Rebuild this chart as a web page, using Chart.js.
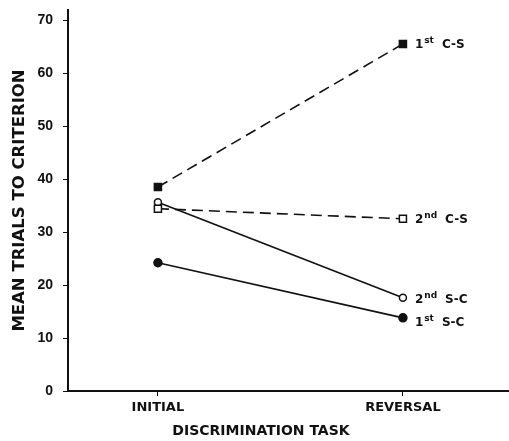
<!DOCTYPE html>
<html>
<head>
<meta charset="utf-8">
<script src="https://cdn.jsdelivr.net/npm/chart.js@4"></script>
<style>
  html, body { margin: 0; padding: 0; background: #fff; overflow: hidden; }
  #wrap { width: 509px; height: 441px; }
</style>
</head>
<body>
<div id="wrap"><canvas id="chart" width="509" height="441"></canvas></div>
<script>
// categories / tick labels
const tasks = ['INITIAL', 'REVERSAL'];
const yTicks = [0, 10, 20, 30, 40, 50, 60, 70];
const xTitle = 'DISCRIMINATION TASK';
const yTitle = 'MEAN TRIALS TO CRITERION';

// series values (mean trials to criterion)
const firstCS  = [38.5, 65.5];
const secondCS = [34.4, 32.5];
const secondSC = [35.6, 17.6];
const firstSC  = [24.2, 13.8];

// label parts: ordinal, superscript, condition
const seriesNames = [
  ['1', 'st', 'C-S'],
  ['2', 'nd', 'C-S'],
  ['2', 'nd', 'S-C'],
  ['1', 'st', 'S-C'],
];

const FONT = "'DejaVu Sans', sans-serif";
const NUMFONT = "'Liberation Sans', Arial, sans-serif";
const INK = '#111';

const toPts = arr => arr.map((v, i) => ({ x: i, y: v }));

// series labels at the right + x axis title (sits left of centre in the original)
const extraText = {
  id: 'extraText',
  afterDatasetsDraw(chart) {
    const ctx = chart.ctx;
    const nudge = [0, 0, 1, 4];
    ctx.save();
    ctx.fillStyle = INK;
    ctx.textBaseline = 'middle';
    chart.data.datasets.forEach((ds, i) => {
      const pt = chart.getDatasetMeta(i).data[1];
      const [n, sup, cond] = seriesNames[i];
      let x = pt.x + 12;
      const y = pt.y + nudge[i];
      ctx.font = 'bold 12px ' + FONT;
      ctx.fillText(n, x, y + 1);
      x += ctx.measureText(n).width + 1;
      ctx.font = 'bold 9px ' + FONT;
      ctx.fillText(sup, x, y - 3);
      x += ctx.measureText(sup).width + 8;
      ctx.font = 'bold 12px ' + FONT;
      ctx.fillText(cond, x, y + 1);
    });
    ctx.font = 'bold 14px ' + FONT;
    ctx.textAlign = 'center';
    ctx.fillText(xTitle, 261, 431);
    ctx.restore();
  }
};

function lineSet(data, dashed, style, filled, radius) {
  return {
    data: toPts(data),
    borderColor: INK,
    borderWidth: 1.6,
    borderDash: dashed ? [11, 6] : [],
    pointStyle: style,
    pointRadius: radius,
    pointBorderWidth: 1.5,
    pointBorderColor: INK,
    pointBackgroundColor: filled ? INK : '#fff',
    tension: 0,
  };
}

new Chart(document.getElementById('chart'), {
  type: 'line',
  data: {
    datasets: [
      lineSet(firstCS, true, 'rect', true, 5),
      lineSet(secondCS, true, 'rect', false, 5),
      lineSet(secondSC, false, 'circle', false, 3.5),
      lineSet(firstSC, false, 'circle', true, 4),
    ],
  },
  options: {
    responsive: false,
    animation: false,
    layout: { autoPadding: false, padding: { top: 10, right: 0, left: 0, bottom: 0 } },
    plugins: { legend: { display: false }, tooltip: { enabled: false } },
    scales: {
      x: {
        type: 'linear',
        min: -0.367,
        max: 1.433,
        afterBuildTicks: s => { s.ticks = tasks.map((_, i) => ({ value: i })); },
        afterFit: s => { s.height = 50; s.paddingLeft = 0; s.paddingRight = 0; },
        border: { display: true, color: INK, width: 2 },
        grid: { drawOnChartArea: false, color: INK, tickLength: 5, lineWidth: 1 },
        ticks: {
          callback: v => tasks[v],
          color: INK, padding: 4,
          font: { family: FONT, size: 13, weight: 'bold' },
          maxRotation: 0,
        },
      },
      y: {
        min: 0,
        max: 71.9,
        afterBuildTicks: s => { s.ticks = yTicks.map(v => ({ value: v })); },
        afterFit: s => { s.width = 68; s.paddingTop = 0; s.paddingBottom = 0; },
        border: { display: true, color: INK, width: 2 },
        grid: { drawOnChartArea: false, color: INK, tickLength: 5, lineWidth: 1 },
        ticks: {
          color: INK, padding: 10,
          font: { family: NUMFONT, size: 14, weight: 'bold' },
        },
        title: {
          display: true, text: yTitle, color: INK,
          font: { family: FONT, size: 16.5, weight: 'bold' },
          padding: { top: 10, bottom: 0 },
        },
      },
    },
  },
  plugins: [extraText],
});
</script>
</body>
</html>
